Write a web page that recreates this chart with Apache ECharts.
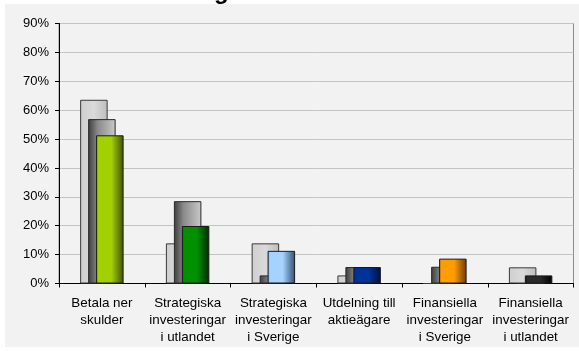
<!DOCTYPE html>
<html>
<head>
<meta charset="utf-8">
<style>
  html, body { margin: 0; padding: 0; background: #ffffff; }
  #chart { width: 579px; height: 351px; }
</style>
<script src="https://cdn.jsdelivr.net/npm/echarts@6/dist/echarts.min.js"></script>
</head>
<body>
<div id="chart"></div>
<script>
// Categories (usage of funds) and the three survey series, in percent
const categories = [
  'Betala ner\nskulder',
  'Strategiska\ninvesteringar\ni utlandet',
  'Strategiska\ninvesteringar\ni Sverige',
  'Utdelning till\naktieägare',
  'Finansiella\ninvesteringar\ni Sverige',
  'Finansiella\ninvesteringar\ni utlandet'
];
const seriesBack = [63.6, 13.9, 13.9, 2.8, 0, 5.6];
const seriesMiddle = [56.9, 28.5, 2.8, 5.7, 5.8, 0];
const seriesFront = [51.3, 19.9, 11.3, 5.7, 8.6, 2.8];
const yTicks = { min: 0, max: 90, step: 10 };

// Front-series colour per category: [edge-left, main, edge-right]
const frontColors = [
  ['#7fa800', '#a3d100', '#3f5200'],
  ['#006a00', '#009000', '#002a00'],
  ['#6f9fd0', '#a6d2ff', '#2f4f70'],
  ['#00206a', '#003399', '#001040'],
  ['#c87000', '#ff9c00', '#6a3a00'],
  ['#000000', '#2a2a2a', '#000000']
];

function hGrad(stops) {
  return {
    type: 'linear', x: 0, y: 0, x2: 1, y2: 0,
    colorStops: stops.map(s => ({ offset: s[0], color: s[1] }))
  };
}

const backFill = hGrad([[0, '#cfcfcf'], [0.5, '#dadada'], [1, '#bdbdbd']]);
const middleFill = hGrad([[0, '#3c3c3c'], [0.35, '#8a8a8a'], [1, '#c9c9c9']]);

const barW = 27.5;
const gap = '-71%';

const chart = echarts.init(document.getElementById('chart'), null, { renderer: 'canvas' });
chart.setOption({
  animation: false,
  backgroundColor: '#ffffff',
  graphic: [
    {
      type: 'rect', z: -10, silent: true,
      shape: { x: 5, y: 4, width: 574, height: 343 },
      style: { fill: '#f2f2f2' }
    },
    {
      type: 'text', z: 10, silent: true,
      left: 214, top: -20,
      style: { text: 'g', fontFamily: 'Liberation Sans, Arial', fontWeight: 'bold', fontSize: 24, fill: '#000' }
    }
  ],
  grid: {
    left: 59, right: 5.5, top: 23.5, bottom: 67.5,
    show: true, borderColor: '#8c8c8c', borderWidth: 1, backgroundColor: 'transparent'
  },
  xAxis: {
    type: 'category',
    data: categories,
    axisLine: { lineStyle: { color: '#000', width: 1 } },
    axisTick: { show: true, length: 4, lineStyle: { color: '#000' } },
    axisLabel: {
      interval: 0, margin: 11, color: '#000',
      fontFamily: 'Liberation Sans, Arial', fontSize: 13.4, lineHeight: 17
    }
  },
  yAxis: {
    type: 'value',
    min: yTicks.min, max: yTicks.max, interval: yTicks.step,
    axisLine: { show: true, lineStyle: { color: '#000', width: 1 } },
    axisTick: { show: true, length: 4, lineStyle: { color: '#000' } },
    axisLabel: {
      formatter: '{value}%', margin: 10, color: '#000',
      fontFamily: 'Liberation Sans, Arial', fontSize: 13
    },
    splitLine: { lineStyle: { color: '#c4c4c4', width: 1 } }
  },
  series: [
    {
      type: 'bar', name: 'A', data: seriesBack, barWidth: barW, barGap: gap,
      itemStyle: { color: backFill, borderColor: '#3a3a3a', borderWidth: 1 }
    },
    {
      type: 'bar', name: 'B', data: seriesMiddle, barWidth: barW, barGap: gap,
      itemStyle: { color: middleFill, borderColor: '#2a2a2a', borderWidth: 1 }
    },
    {
      type: 'bar', name: 'C', barWidth: barW, barGap: gap,
      data: seriesFront.map((v, i) => ({
        value: v,
        itemStyle: {
          color: hGrad([[0, frontColors[i][0]], [0.08, frontColors[i][1]], [0.55, frontColors[i][1]], [1, frontColors[i][2]]]),
          borderColor: '#1a1a1a', borderWidth: 1
        }
      }))
    }
  ]
});
</script>
</body>
</html>
